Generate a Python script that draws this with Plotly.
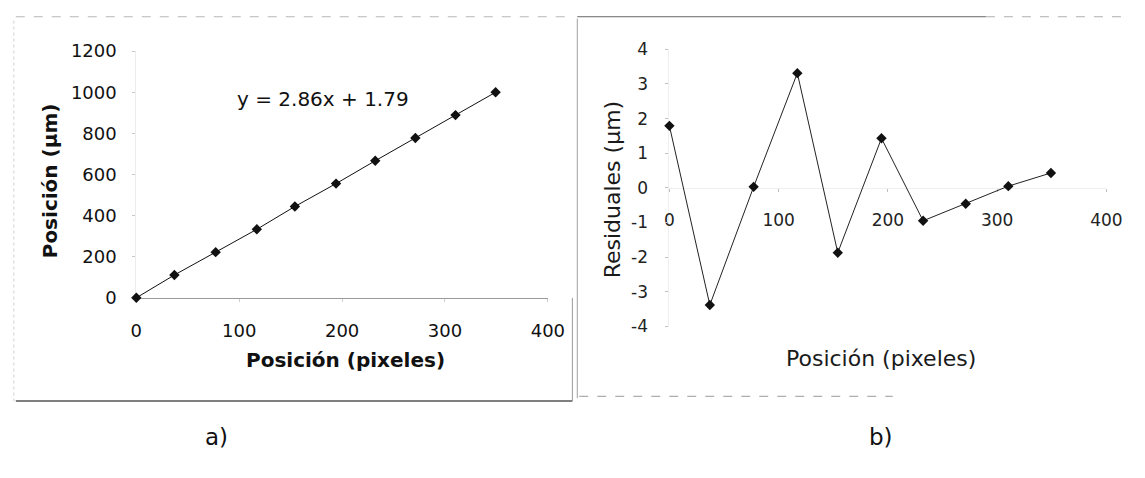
import plotly.graph_objects as go

W, H = 1145, 478

# ---- data ----
pos_px = [0, 37.0, 77.1, 117.1, 154.1, 194.1, 232.2, 271.2, 310.2, 349.2]
pos_um = [0, 111.1, 222.2, 333.3, 444.4, 555.6, 666.7, 777.8, 888.9, 1000]
residual = [1.79, -3.38, 0.03, 3.31, -1.87, 1.43, -0.95, -0.46, 0.05, 0.43]

x_ticks = [0, 100, 200, 300, 400]
y1_ticks = [0, 200, 400, 600, 800, 1000, 1200]
y2_ticks = [-4, -3, -2, -1, 0, 1, 2, 3, 4]
y2_ticktext = ["-4", "-3", "-2", "-1", "0", "1", "2", "3", "4"]

equation = "y = 2.86x + 1.79"
FONT = "DejaVu Sans"


def px(p):
    return p / W


def py(p):
    return 1 - p / H


fig = go.Figure()

fig.add_trace(go.Scatter(
    x=pos_px, y=pos_um, mode="lines+markers",
    line=dict(color="#111", width=1),
    marker=dict(symbol="diamond", size=8, color="#111"),
    cliponaxis=False, showlegend=False, xaxis="x", yaxis="y"))

fig.add_trace(go.Scatter(
    x=pos_px, y=residual, mode="lines+markers",
    line=dict(color="#222", width=1),
    marker=dict(symbol="diamond", size=8, color="#111"),
    cliponaxis=False, showlegend=False, xaxis="x2", yaxis="y2"))

tick_font_l = dict(family=FONT, size=18, color="#111")
tick_font_r = dict(family=FONT, size=17, color="#222")

fig.update_layout(
    width=W, height=H, autosize=False,
    margin=dict(l=0, r=0, t=0, b=0),
    paper_bgcolor="white", plot_bgcolor="white",
    xaxis=dict(domain=[px(133), px(553)], range=[0, 400], tickvals=x_ticks,
               showline=True, linecolor="#9a9a9a", linewidth=1,
               ticks="outside", ticklen=3, tickcolor="#cfcfcf",
               showgrid=False, zeroline=False, tickfont=tick_font_l,
               ticklabelstandoff=14, anchor="y", layer="below traces"),
    yaxis=dict(domain=[py(300), py(42)], range=[0, 1200], tickvals=y1_ticks,
               showline=True, linecolor="#ececec", linewidth=1,
               ticks="outside", ticklen=3, tickcolor="#c8c8c8",
               showgrid=False, zeroline=False, tickfont=tick_font_l,
               ticklabelstandoff=12, anchor="x", layer="below traces"),
    xaxis2=dict(domain=[px(677), px(1123)], range=[0, 400], tickvals=x_ticks,
                anchor="free", position=py(185),
                showline=True, linecolor="#efefef", linewidth=1,
                ticks="outside", ticklen=3, tickcolor="#c0c0c0",
                showgrid=False, zeroline=False, tickfont=tick_font_r,
                ticklabelstandoff=14, layer="below traces"),
    yaxis2=dict(domain=[py(330), py(40)], range=[-4, 4], tickvals=y2_ticks,
                ticktext=y2_ticktext, anchor="x2",
                showline=True, linecolor="#efefef", linewidth=1,
                ticks="outside", ticklen=3, tickcolor="#c0c0c0",
                showgrid=False, zeroline=False, tickfont=tick_font_r,
                ticklabelstandoff=14, layer="below traces"),
)

ann = []


def add_text(text, x, y, size, angle=0, color="#111"):
    ann.append(dict(text=text, x=px(x), y=py(y), xref="paper", yref="paper",
                    xanchor="center", yanchor="middle", showarrow=False,
                    textangle=angle, font=dict(family=FONT, size=size, color=color)))


add_text("<b>Posición (µm)</b>", 45, 178, 20, angle=-90)
add_text("<b>Posición (pixeles)</b>", 346, 365, 20)
add_text(equation, 323, 92, 20)
add_text("Residuales (µm)", 619, 187, 22, angle=-90, color="#1a1a1a")
add_text("Posición (pixeles)", 893, 363, 22, color="#1a1a1a")
add_text("a)", 215, 446, 23)
add_text("b)", 893, 446, 23)
fig.update_layout(annotations=ann)

shapes = []


def line(x0, y0, x1, y1, color, width=1, dash="solid"):
    shapes.append(dict(type="line", xref="paper", yref="paper",
                       x0=px(x0), y0=py(y0), x1=px(x1), y1=py(y1),
                       line=dict(color=color, width=width, dash=dash)))


# scanned panel frames
line(10, 6, 578, 6, "#b8b8b8", 1, "dash")
line(8, 10, 8, 408, "#cfcfcf", 1, "dot")
line(10, 408, 578, 408, "#555555", 1.5)
line(578, 300, 578, 408, "#9a9a9a", 1)
line(583, 6, 1000, 6, "#666666", 1)
line(1000, 6, 1145, 6, "#b0b0b0", 1, "dash")
line(583, 8, 583, 405, "#a0a0a0", 1)
line(585, 403, 905, 403, "#9a9a9a", 1, "dash")
fig.update_layout(shapes=shapes)

fig.write_html("out.html")
